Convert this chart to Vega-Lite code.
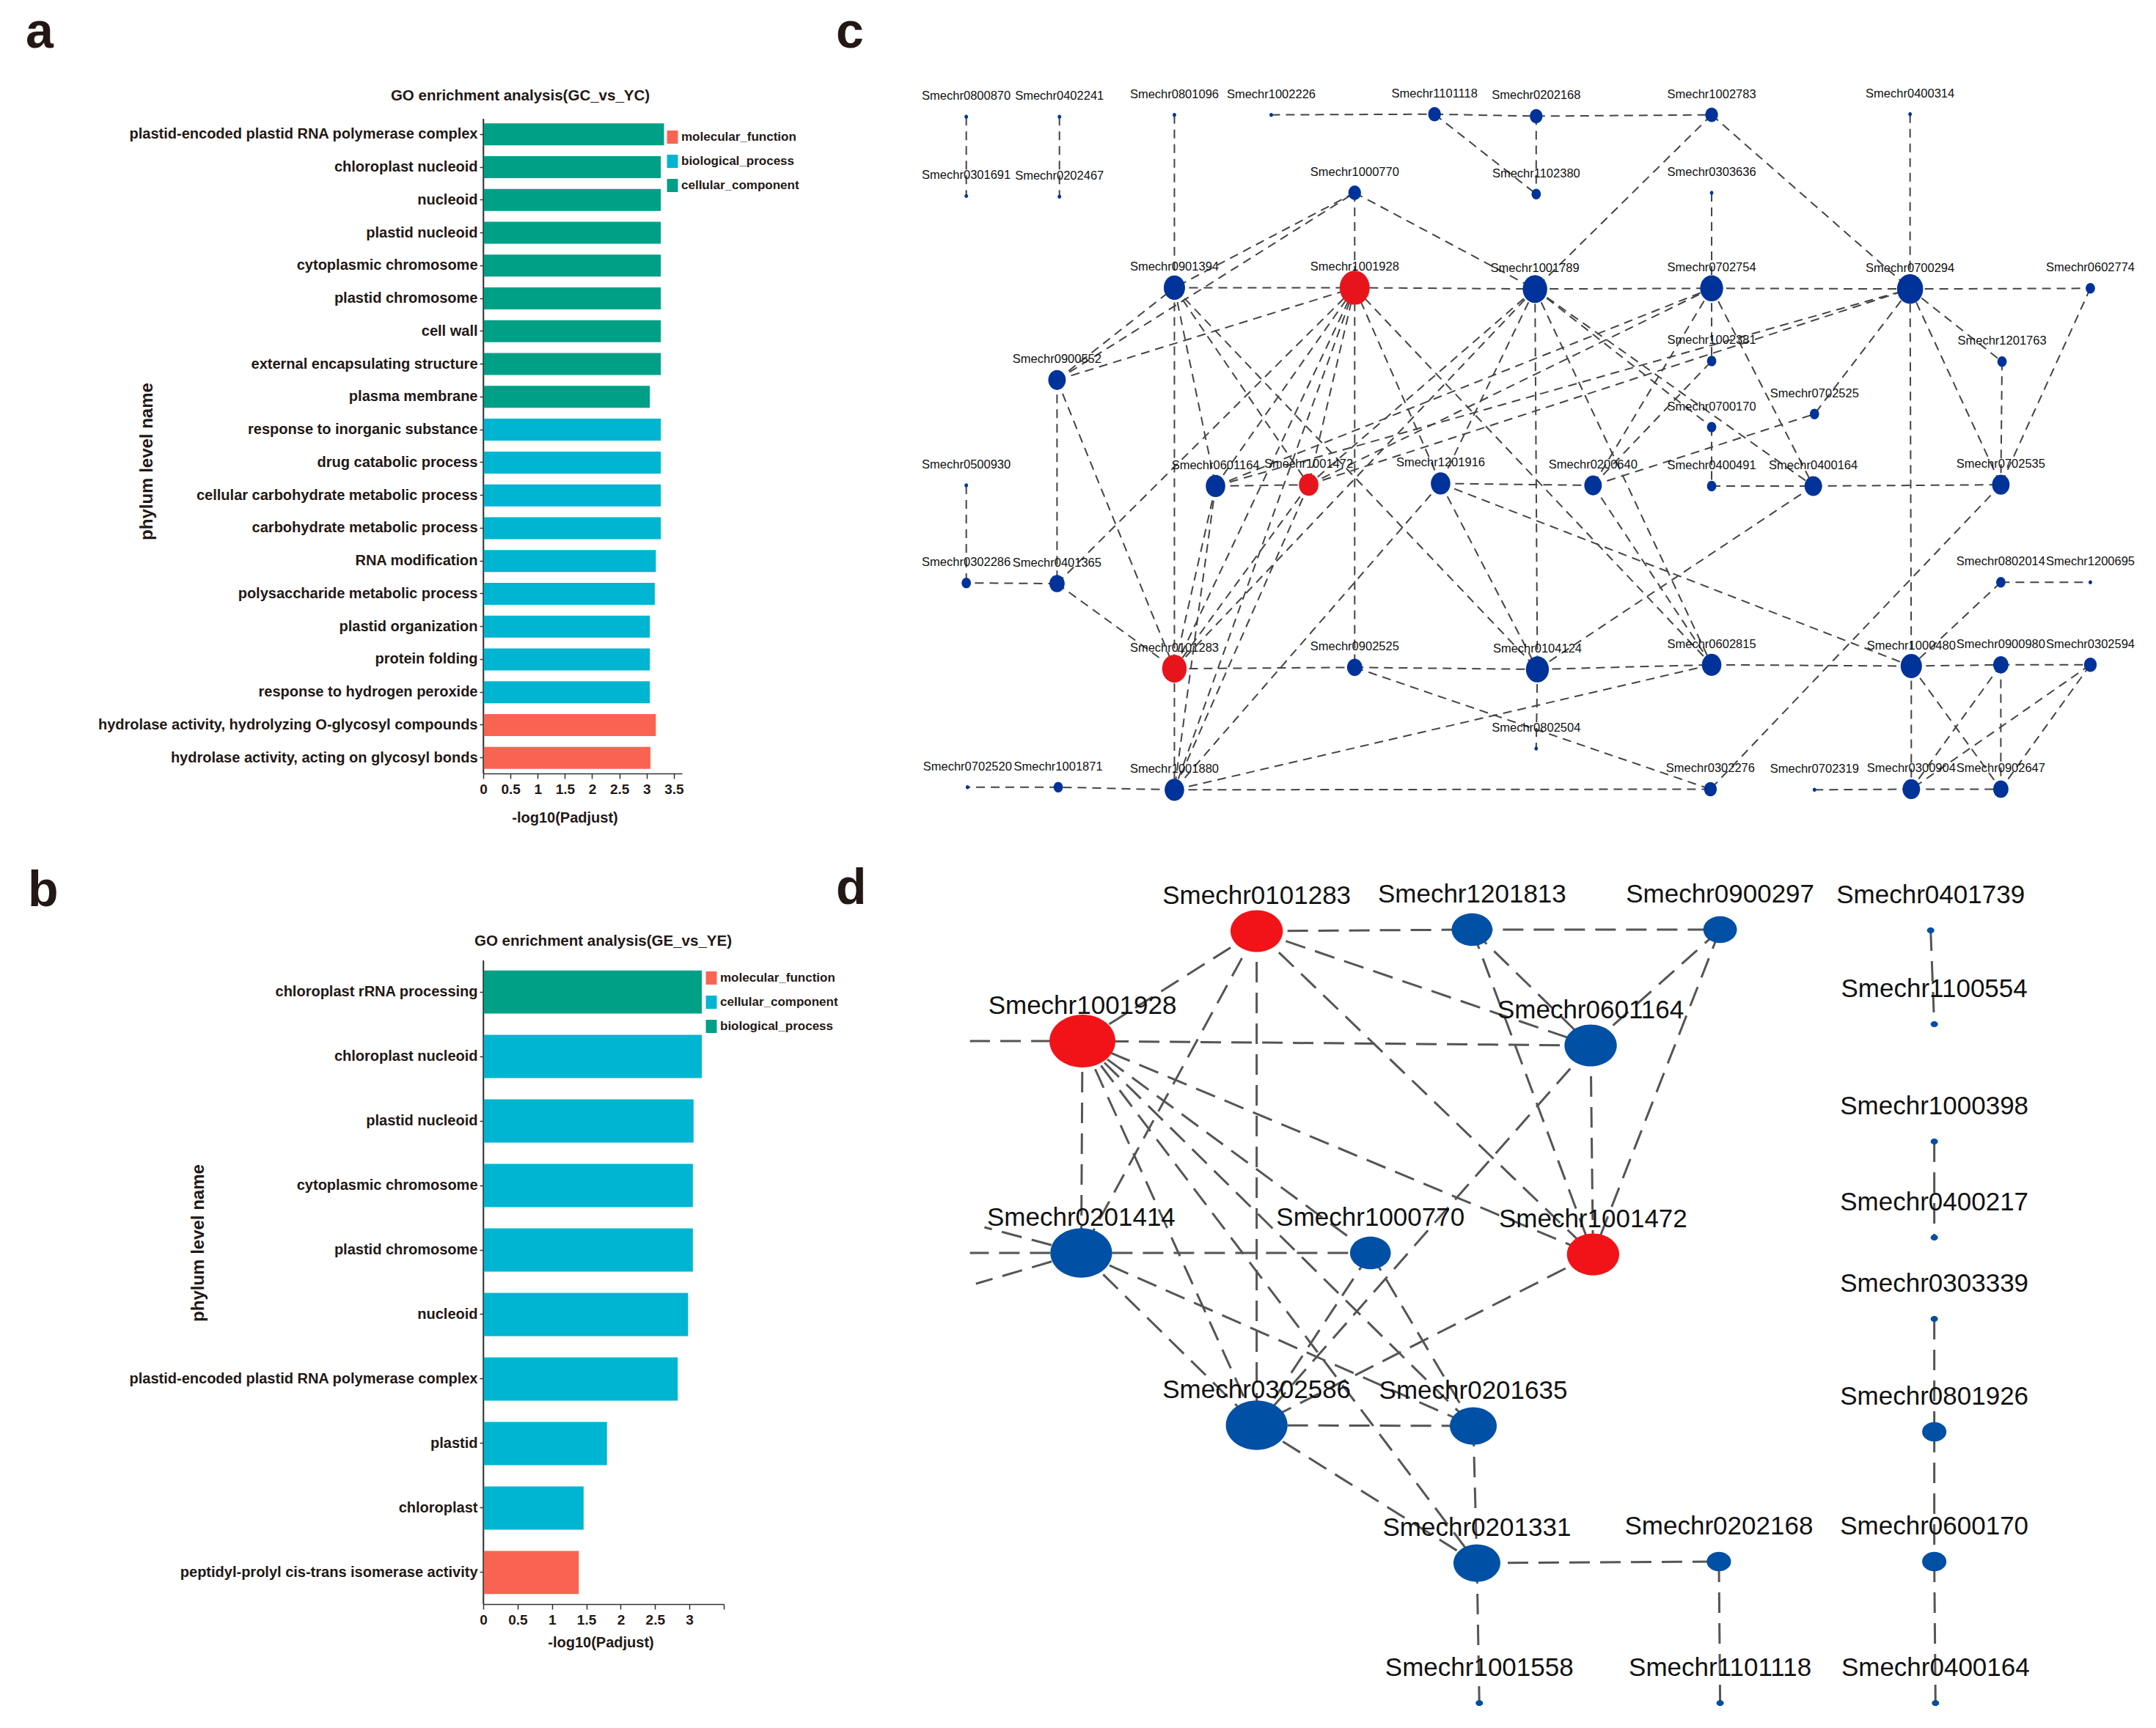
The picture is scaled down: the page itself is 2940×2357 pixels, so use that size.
{
  "$schema": "https://vega.github.io/schema/vega-lite/v6.json",
  "background": "white",
  "padding": {"left": 35, "top": 10, "right": 20, "bottom": 20},
  "config": {"view": {"stroke": null}},
  "datasets": {
    "goA": [
      {"term": "plastid-encoded plastid RNA polymerase complex", "value": 3.32, "category": "cellular_component"},
      {"term": "chloroplast nucleoid", "value": 3.26, "category": "cellular_component"},
      {"term": "nucleoid", "value": 3.26, "category": "cellular_component"},
      {"term": "plastid nucleoid", "value": 3.26, "category": "cellular_component"},
      {"term": "cytoplasmic chromosome", "value": 3.26, "category": "cellular_component"},
      {"term": "plastid chromosome", "value": 3.26, "category": "cellular_component"},
      {"term": "cell wall", "value": 3.26, "category": "cellular_component"},
      {"term": "external encapsulating structure", "value": 3.26, "category": "cellular_component"},
      {"term": "plasma membrane", "value": 3.06, "category": "cellular_component"},
      {"term": "response to inorganic substance", "value": 3.26, "category": "biological_process"},
      {"term": "drug catabolic process", "value": 3.26, "category": "biological_process"},
      {"term": "cellular carbohydrate metabolic process", "value": 3.26, "category": "biological_process"},
      {"term": "carbohydrate metabolic process", "value": 3.26, "category": "biological_process"},
      {"term": "RNA modification", "value": 3.17, "category": "biological_process"},
      {"term": "polysaccharide metabolic process", "value": 3.15, "category": "biological_process"},
      {"term": "plastid organization", "value": 3.06, "category": "biological_process"},
      {"term": "protein folding", "value": 3.06, "category": "biological_process"},
      {"term": "response to hydrogen peroxide", "value": 3.06, "category": "biological_process"},
      {"term": "hydrolase activity, hydrolyzing O-glycosyl compounds", "value": 3.17, "category": "molecular_function"},
      {"term": "hydrolase activity, acting on glycosyl bonds", "value": 3.07, "category": "molecular_function"}
    ],
    "goB": [
      {"term": "chloroplast rRNA processing", "value": 3.18, "category": "biological_process"},
      {"term": "chloroplast nucleoid", "value": 3.18, "category": "cellular_component"},
      {"term": "plastid nucleoid", "value": 3.06, "category": "cellular_component"},
      {"term": "cytoplasmic chromosome", "value": 3.05, "category": "cellular_component"},
      {"term": "plastid chromosome", "value": 3.05, "category": "cellular_component"},
      {"term": "nucleoid", "value": 2.98, "category": "cellular_component"},
      {"term": "plastid-encoded plastid RNA polymerase complex", "value": 2.83, "category": "cellular_component"},
      {"term": "plastid", "value": 1.8, "category": "cellular_component"},
      {"term": "chloroplast", "value": 1.46, "category": "cellular_component"},
      {"term": "peptidyl-prolyl cis-trans isomerase activity", "value": 1.39, "category": "molecular_function"}
    ],
    "nodesC": [
      {"id": "Smechr0800870", "x": 4.1, "y": -0.3, "degree": 1, "type": "other"},
      {"id": "Smechr0402241", "x": 11.8, "y": -0.3, "degree": 1, "type": "other"},
      {"id": "Smechr0801096", "x": 21.3, "y": -0.6, "degree": 1, "type": "other"},
      {"id": "Smechr1002226", "x": 29.3, "y": -0.6, "degree": 1, "type": "other"},
      {"id": "Smechr1101118", "x": 42.8, "y": -0.7, "degree": 3, "type": "other"},
      {"id": "Smechr0202168", "x": 51.2, "y": -0.4, "degree": 3, "type": "other"},
      {"id": "Smechr1002783", "x": 65.7, "y": -0.6, "degree": 3, "type": "other"},
      {"id": "Smechr0400314", "x": 82.1, "y": -0.7, "degree": 1, "type": "other"},
      {"id": "Smechr0301691", "x": 4.1, "y": 11.8, "degree": 1, "type": "other"},
      {"id": "Smechr0202467", "x": 11.8, "y": 11.9, "degree": 1, "type": "other"},
      {"id": "Smechr1000770", "x": 36.2, "y": 11.3, "degree": 3, "type": "other"},
      {"id": "Smechr1102380", "x": 51.2, "y": 11.5, "degree": 2, "type": "other"},
      {"id": "Smechr0303636", "x": 65.7, "y": 11.3, "degree": 1, "type": "other"},
      {"id": "Smechr0901394", "x": 21.3, "y": 25.8, "degree": 7, "type": "other"},
      {"id": "Smechr1001928", "x": 36.2, "y": 25.8, "degree": 13, "type": "key"},
      {"id": "Smechr1001789", "x": 51.1, "y": 26.0, "degree": 9, "type": "other"},
      {"id": "Smechr0702754", "x": 65.7, "y": 25.9, "degree": 8, "type": "other"},
      {"id": "Smechr0700294", "x": 82.1, "y": 26.0, "degree": 10, "type": "other"},
      {"id": "Smechr0602774", "x": 97.0, "y": 25.9, "degree": 2, "type": "other"},
      {"id": "Smechr0900552", "x": 11.6, "y": 39.9, "degree": 5, "type": "other"},
      {"id": "Smechr1002381", "x": 65.7, "y": 37.0, "degree": 2, "type": "other"},
      {"id": "Smechr1201763", "x": 89.7, "y": 37.1, "degree": 2, "type": "other"},
      {"id": "Smechr0702525", "x": 74.2, "y": 45.1, "degree": 2, "type": "other"},
      {"id": "Smechr0700170", "x": 65.7, "y": 47.1, "degree": 2, "type": "other"},
      {"id": "Smechr0500930", "x": 4.1, "y": 56.0, "degree": 1, "type": "other"},
      {"id": "Smechr0601164", "x": 24.7, "y": 56.1, "degree": 6, "type": "other"},
      {"id": "Smechr1001472", "x": 32.4, "y": 55.9, "degree": 6, "type": "key"},
      {"id": "Smechr1201916", "x": 43.3, "y": 55.7, "degree": 6, "type": "other"},
      {"id": "Smechr0200640", "x": 55.9, "y": 56.0, "degree": 5, "type": "other"},
      {"id": "Smechr0400491", "x": 65.7, "y": 56.1, "degree": 2, "type": "other"},
      {"id": "Smechr0400164", "x": 74.1, "y": 56.1, "degree": 5, "type": "other"},
      {"id": "Smechr0702535", "x": 89.6, "y": 55.9, "degree": 5, "type": "other"},
      {"id": "Smechr0302286", "x": 4.1, "y": 70.9, "degree": 2, "type": "other"},
      {"id": "Smechr0401365", "x": 11.6, "y": 71.0, "degree": 4, "type": "other"},
      {"id": "Smechr0802014", "x": 89.6, "y": 70.8, "degree": 2, "type": "other"},
      {"id": "Smechr1200695", "x": 97.0, "y": 70.8, "degree": 1, "type": "other"},
      {"id": "Smechr0101283", "x": 21.3, "y": 84.0, "degree": 9, "type": "key"},
      {"id": "Smechr0902525", "x": 36.2, "y": 83.8, "degree": 4, "type": "other"},
      {"id": "Smechr0104124", "x": 51.3, "y": 84.1, "degree": 8, "type": "other"},
      {"id": "Smechr0602815", "x": 65.7, "y": 83.4, "degree": 6, "type": "other"},
      {"id": "Smechr1000480", "x": 82.2, "y": 83.6, "degree": 7, "type": "other"},
      {"id": "Smechr0900980", "x": 89.6, "y": 83.4, "degree": 4, "type": "other"},
      {"id": "Smechr0302594", "x": 97.0, "y": 83.4, "degree": 3, "type": "other"},
      {"id": "Smechr0802504", "x": 51.2, "y": 96.2, "degree": 1, "type": "other"},
      {"id": "Smechr0702520", "x": 4.2, "y": 102.1, "degree": 1, "type": "other"},
      {"id": "Smechr1001871", "x": 11.7, "y": 102.1, "degree": 2, "type": "other"},
      {"id": "Smechr1001880", "x": 21.3, "y": 102.5, "degree": 6, "type": "other"},
      {"id": "Smechr0302276", "x": 65.6, "y": 102.4, "degree": 3, "type": "other"},
      {"id": "Smechr0702319", "x": 74.2, "y": 102.5, "degree": 1, "type": "other"},
      {"id": "Smechr0300904", "x": 82.2, "y": 102.4, "degree": 5, "type": "other"},
      {"id": "Smechr0902647", "x": 89.6, "y": 102.4, "degree": 4, "type": "other"}
    ],
    "edgesC": [
      {"s": "Smechr0800870", "t": "Smechr0301691"}, {"s": "Smechr0402241", "t": "Smechr0202467"},
      {"s": "Smechr0801096", "t": "Smechr0901394"}, {"s": "Smechr1002226", "t": "Smechr1101118"},
      {"s": "Smechr1101118", "t": "Smechr0202168"}, {"s": "Smechr1101118", "t": "Smechr1102380"},
      {"s": "Smechr0202168", "t": "Smechr1102380"}, {"s": "Smechr0202168", "t": "Smechr1002783"},
      {"s": "Smechr1002783", "t": "Smechr1001789"}, {"s": "Smechr1002783", "t": "Smechr0700294"},
      {"s": "Smechr0400314", "t": "Smechr0700294"}, {"s": "Smechr0303636", "t": "Smechr0702754"},
      {"s": "Smechr1000770", "t": "Smechr0901394"}, {"s": "Smechr1000770", "t": "Smechr1001928"},
      {"s": "Smechr1000770", "t": "Smechr1001789"}, {"s": "Smechr0901394", "t": "Smechr1001928"},
      {"s": "Smechr1001928", "t": "Smechr1001789"}, {"s": "Smechr1001789", "t": "Smechr0702754"},
      {"s": "Smechr0702754", "t": "Smechr0700294"}, {"s": "Smechr0700294", "t": "Smechr0602774"},
      {"s": "Smechr0900552", "t": "Smechr0901394"}, {"s": "Smechr0900552", "t": "Smechr1000770"},
      {"s": "Smechr0900552", "t": "Smechr1001928"}, {"s": "Smechr0900552", "t": "Smechr0401365"},
      {"s": "Smechr0900552", "t": "Smechr0101283"}, {"s": "Smechr0901394", "t": "Smechr0101283"},
      {"s": "Smechr0901394", "t": "Smechr1001472"}, {"s": "Smechr0901394", "t": "Smechr0601164"},
      {"s": "Smechr0901394", "t": "Smechr0104124"}, {"s": "Smechr0401365", "t": "Smechr1001928"},
      {"s": "Smechr0401365", "t": "Smechr0302286"}, {"s": "Smechr0401365", "t": "Smechr0101283"},
      {"s": "Smechr0500930", "t": "Smechr0302286"}, {"s": "Smechr1001928", "t": "Smechr0101283"},
      {"s": "Smechr1001928", "t": "Smechr0601164"}, {"s": "Smechr1001928", "t": "Smechr1001880"},
      {"s": "Smechr1001928", "t": "Smechr0902525"}, {"s": "Smechr1001928", "t": "Smechr1201916"},
      {"s": "Smechr1001928", "t": "Smechr0602815"}, {"s": "Smechr1001928", "t": "Smechr1001472"},
      {"s": "Smechr0601164", "t": "Smechr1001472"}, {"s": "Smechr0601164", "t": "Smechr0702754"},
      {"s": "Smechr0601164", "t": "Smechr0700294"}, {"s": "Smechr1001472", "t": "Smechr0702754"},
      {"s": "Smechr1001472", "t": "Smechr0700294"}, {"s": "Smechr0601164", "t": "Smechr1001880"},
      {"s": "Smechr1001472", "t": "Smechr0101283"}, {"s": "Smechr1001472", "t": "Smechr1001880"},
      {"s": "Smechr1001789", "t": "Smechr0101283"}, {"s": "Smechr1001789", "t": "Smechr1001472"},
      {"s": "Smechr1001789", "t": "Smechr0104124"}, {"s": "Smechr1001789", "t": "Smechr0700170"},
      {"s": "Smechr1001789", "t": "Smechr0400164"}, {"s": "Smechr1001789", "t": "Smechr0602815"},
      {"s": "Smechr1001789", "t": "Smechr1201916"}, {"s": "Smechr0702754", "t": "Smechr1002381"},
      {"s": "Smechr0700170", "t": "Smechr0400491"}, {"s": "Smechr0702754", "t": "Smechr0200640"},
      {"s": "Smechr0702754", "t": "Smechr0400164"}, {"s": "Smechr0700294", "t": "Smechr1000480"},
      {"s": "Smechr0700294", "t": "Smechr0702525"}, {"s": "Smechr0700294", "t": "Smechr1201763"},
      {"s": "Smechr0700294", "t": "Smechr0702535"}, {"s": "Smechr1201763", "t": "Smechr0702535"},
      {"s": "Smechr0602774", "t": "Smechr0702535"}, {"s": "Smechr1201916", "t": "Smechr0200640"},
      {"s": "Smechr0400491", "t": "Smechr0400164"}, {"s": "Smechr0400164", "t": "Smechr0702535"},
      {"s": "Smechr0200640", "t": "Smechr0702525"}, {"s": "Smechr0200640", "t": "Smechr1002381"},
      {"s": "Smechr0200640", "t": "Smechr0602815"}, {"s": "Smechr0400164", "t": "Smechr0104124"},
      {"s": "Smechr1201916", "t": "Smechr1000480"}, {"s": "Smechr1201916", "t": "Smechr0104124"},
      {"s": "Smechr1201916", "t": "Smechr1001880"}, {"s": "Smechr0101283", "t": "Smechr1001880"},
      {"s": "Smechr0101283", "t": "Smechr0902525"}, {"s": "Smechr0902525", "t": "Smechr0104124"},
      {"s": "Smechr0902525", "t": "Smechr0302276"}, {"s": "Smechr0104124", "t": "Smechr0602815"},
      {"s": "Smechr0104124", "t": "Smechr0802504"}, {"s": "Smechr0602815", "t": "Smechr1000480"},
      {"s": "Smechr0602815", "t": "Smechr1001880"}, {"s": "Smechr1000480", "t": "Smechr0900980"},
      {"s": "Smechr1000480", "t": "Smechr0300904"}, {"s": "Smechr1000480", "t": "Smechr0902647"},
      {"s": "Smechr0802014", "t": "Smechr1000480"}, {"s": "Smechr0802014", "t": "Smechr1200695"},
      {"s": "Smechr0702535", "t": "Smechr0302276"}, {"s": "Smechr0900980", "t": "Smechr0302594"},
      {"s": "Smechr0900980", "t": "Smechr0902647"}, {"s": "Smechr0900980", "t": "Smechr0300904"},
      {"s": "Smechr0302594", "t": "Smechr0300904"}, {"s": "Smechr0302594", "t": "Smechr0902647"},
      {"s": "Smechr0300904", "t": "Smechr0702319"}, {"s": "Smechr0300904", "t": "Smechr0902647"},
      {"s": "Smechr0302276", "t": "Smechr1001880"}, {"s": "Smechr1001880", "t": "Smechr1001871"},
      {"s": "Smechr1001871", "t": "Smechr0702520"}, {"s": "Smechr0601164", "t": "Smechr0101283"}
    ],
    "nodesD": [
      {"id": "Smechr0101283", "x": 28.1, "y": -4.0, "degree": 6, "type": "key"},
      {"id": "Smechr1201813", "x": 45.9, "y": -4.2, "degree": 4, "type": "other"},
      {"id": "Smechr0900297", "x": 66.4, "y": -4.2, "degree": 3, "type": "other"},
      {"id": "Smechr0401739", "x": 83.8, "y": -4.1, "degree": 1, "type": "other"},
      {"id": "Smechr1001928", "x": 13.7, "y": 11.0, "degree": 9, "type": "key"},
      {"id": "Smechr0601164", "x": 55.7, "y": 11.6, "degree": 6, "type": "other"},
      {"id": "Smechr1100554", "x": 84.1, "y": 8.7, "degree": 1, "type": "other"},
      {"id": "Smechr1000398", "x": 84.1, "y": 24.7, "degree": 1, "type": "other"},
      {"id": "Smechr0201414", "x": 13.6, "y": 39.9, "degree": 8, "type": "other"},
      {"id": "Smechr1000770", "x": 37.5, "y": 39.9, "degree": 4, "type": "other"},
      {"id": "Smechr1001472", "x": 55.9, "y": 40.1, "degree": 6, "type": "key"},
      {"id": "Smechr0400217", "x": 84.1, "y": 37.8, "degree": 1, "type": "other"},
      {"id": "Smechr0303339", "x": 84.1, "y": 48.9, "degree": 1, "type": "other"},
      {"id": "Smechr0302586", "x": 28.1, "y": 63.4, "degree": 8, "type": "other"},
      {"id": "Smechr0201635", "x": 46.0, "y": 63.5, "degree": 5, "type": "other"},
      {"id": "Smechr0801926", "x": 84.1, "y": 64.3, "degree": 2, "type": "other"},
      {"id": "Smechr0201331", "x": 46.3, "y": 82.2, "degree": 5, "type": "other"},
      {"id": "Smechr0202168", "x": 66.3, "y": 82.0, "degree": 2, "type": "other"},
      {"id": "Smechr0600170", "x": 84.1, "y": 82.0, "degree": 2, "type": "other"},
      {"id": "Smechr1001558", "x": 46.5, "y": 101.3, "degree": 1, "type": "other"},
      {"id": "Smechr1101118", "x": 66.4, "y": 101.3, "degree": 1, "type": "other"},
      {"id": "Smechr0400164", "x": 84.2, "y": 101.3, "degree": 1, "type": "other"},
      {"id": "L1", "x": 4.4, "y": 11.0, "degree": 1, "type": "stub"},
      {"id": "L2", "x": 4.4, "y": 39.9, "degree": 1, "type": "stub"},
      {"id": "L3", "x": 4.9, "y": 44.1, "degree": 1, "type": "stub"},
      {"id": "L4", "x": 5.6, "y": 36.4, "degree": 1, "type": "stub"}
    ],
    "edgesD": [
      {"s": "Smechr0101283", "t": "Smechr1201813"}, {"s": "Smechr1201813", "t": "Smechr0900297"},
      {"s": "Smechr0101283", "t": "Smechr1001928"}, {"s": "Smechr0101283", "t": "Smechr0201414"},
      {"s": "Smechr0101283", "t": "Smechr0302586"}, {"s": "Smechr0101283", "t": "Smechr0601164"},
      {"s": "Smechr0101283", "t": "Smechr1001472"}, {"s": "Smechr1201813", "t": "Smechr0601164"},
      {"s": "Smechr1201813", "t": "Smechr1001472"}, {"s": "Smechr0900297", "t": "Smechr0601164"},
      {"s": "Smechr0900297", "t": "Smechr1001472"}, {"s": "Smechr0601164", "t": "Smechr1001472"},
      {"s": "Smechr0601164", "t": "Smechr1001928"}, {"s": "Smechr0601164", "t": "Smechr0302586"},
      {"s": "Smechr1001928", "t": "L1"}, {"s": "Smechr1001928", "t": "Smechr0201414"},
      {"s": "Smechr1001928", "t": "Smechr0302586"}, {"s": "Smechr1001928", "t": "Smechr0201635"},
      {"s": "Smechr1001928", "t": "Smechr0201331"}, {"s": "Smechr1001928", "t": "Smechr1000770"},
      {"s": "Smechr1001928", "t": "Smechr1001472"}, {"s": "Smechr0201414", "t": "Smechr1000770"},
      {"s": "Smechr0201414", "t": "Smechr0302586"}, {"s": "Smechr0201414", "t": "Smechr0201635"},
      {"s": "Smechr0201414", "t": "L2"}, {"s": "Smechr0201414", "t": "L3"},
      {"s": "Smechr0201414", "t": "L4"}, {"s": "Smechr1000770", "t": "Smechr0302586"},
      {"s": "Smechr1000770", "t": "Smechr0201635"}, {"s": "Smechr1001472", "t": "Smechr0302586"},
      {"s": "Smechr0302586", "t": "Smechr0201635"}, {"s": "Smechr0302586", "t": "Smechr0201331"},
      {"s": "Smechr0201635", "t": "Smechr0201331"}, {"s": "Smechr0201331", "t": "Smechr0202168"},
      {"s": "Smechr0201331", "t": "Smechr1001558"}, {"s": "Smechr0202168", "t": "Smechr1101118"},
      {"s": "Smechr0401739", "t": "Smechr1100554"}, {"s": "Smechr1000398", "t": "Smechr0400217"},
      {"s": "Smechr0303339", "t": "Smechr0801926"}, {"s": "Smechr0801926", "t": "Smechr0600170"},
      {"s": "Smechr0600170", "t": "Smechr0400164"}
    ]
  },
  "columns": 2,
  "bounds": "flush",
  "spacing": {"row": 255, "column": 263},
  "resolve": {
    "scale": {"color": "independent", "size": "independent", "x": "independent", "y": "independent"},
    "legend": {"color": "independent", "size": "independent"}
  },
  "concat": [
    {
      "width": 271,
      "height": 893,
      "data": {"name": "goA"},
      "title": {"text": "a", "anchor": "start", "frame": "group", "dx": -624, "dy": -37, "fontSize": 68, "fontWeight": "bold", "font": "Liberation Sans", "color": "#231815"},
      "resolve": {"axis": {"x": "independent"}},
      "layer": [
        {
          "mark": {"type": "bar"},
          "encoding": {
            "y": {
              "field": "term", "type": "nominal", "sort": null,
              "scale": {"paddingInner": 0.33, "paddingOuter": 0.14},
              "axis": {
                "title": "phylum level name", "titleFont": "Liberation Sans", "titleFontWeight": "bold", "titleFontSize": 24, "titleColor": "#231815",
                "titleX": -459, "titleY": 467, "titleAngle": -90, "titleAlign": "center", "titleBaseline": "middle",
                "labelFont": "Liberation Sans", "labelFontSize": 20, "labelFontWeight": "bold", "labelColor": "#231815", "labelLimit": 1000, "labelPadding": 3,
                "tickSize": 5, "tickColor": "#333333", "tickWidth": 1.5, "domainColor": "#333333", "domainWidth": 1.5, "grid": false
              }
            },
            "x": {
              "field": "value", "type": "quantitative",
              "scale": {"domain": [0, 3.65], "nice": false, "zero": true},
              "axis": {
                "title": "-log10(Padjust)", "values": [0, 0.5, 1, 1.5, 2, 2.5, 3, 3.5], "format": "~g",
                "titleFont": "Liberation Sans", "titleFontSize": 20, "titleFontWeight": "bold", "titleColor": "#231815",
                "titleX": 111, "titleY": 66, "titleAlign": "center", "titleBaseline": "alphabetic",
                "labelFont": "Liberation Sans", "labelFontSize": 19, "labelFontWeight": "bold", "labelColor": "#231815", "labelPadding": 5, "labelFlush": false, "labelOverlap": false,
                "tickSize": 7, "tickColor": "#333333", "tickWidth": 1.5, "domainColor": "#333333", "domainWidth": 1.5, "grid": false
              }
            },
            "color": {
              "field": "category", "type": "nominal",
              "scale": {"domain": ["molecular_function", "biological_process", "cellular_component"], "range": ["#F96452", "#00B5D1", "#00A087"]},
              "legend": {
                "orient": "none", "legendX": 249, "legendY": 16, "title": null,
                "symbolType": "M-0.83,-1H0.83V1H-0.83Z", "symbolSize": 324, "symbolStrokeWidth": 0,
                "labelFont": "Liberation Sans", "labelFontSize": 17, "labelFontWeight": "bold", "labelColor": "#231815", "labelOffset": 3, "labelLimit": 500, "rowPadding": 15
              }
            }
          }
        },
        {
          "data": {"values": [{}]},
          "mark": {"type": "rule", "color": "#333333", "strokeWidth": 1.5},
          "encoding": {
            "x": {
              "datum": 0, "type": "quantitative",
              "axis": {
                "orient": "top", "title": "GO enrichment analysis(GC_vs_YC)", "domain": false, "ticks": false, "labels": false, "grid": false,
                "titleX": 50, "titleY": -26, "titleAlign": "center", "titleBaseline": "alphabetic",
                "titleFont": "Liberation Sans", "titleFontSize": 20.5, "titleFontWeight": "bold", "titleColor": "#231815"
              }
            }
          }
        }
      ]
    },
    {
      "width": 1650,
      "height": 893,
      "title": {"text": "c", "anchor": "start", "frame": "group", "dx": -110, "dy": -37, "fontSize": 68, "fontWeight": "bold", "font": "Liberation Sans", "color": "#231815"},
      "layer": [
        {
          "data": {"name": "edgesC"},
          "transform": [
            {"lookup": "s", "from": {"data": {"name": "nodesC"}, "key": "id", "fields": ["x", "y"]}, "as": ["sx", "sy"]},
            {"lookup": "t", "from": {"data": {"name": "nodesC"}, "key": "id", "fields": ["x", "y"]}, "as": ["tx", "ty"]}
          ],
          "mark": {"type": "rule", "color": "#444444", "strokeWidth": 2, "strokeDash": [12, 8]},
          "encoding": {
            "x": {"field": "sx", "type": "quantitative", "scale": {"domain": [0, 100], "nice": false, "zero": false}, "axis": null},
            "y": {"field": "sy", "type": "quantitative", "scale": {"domain": [0, 100], "nice": false, "zero": false, "reverse": true}, "axis": null},
            "x2": {"field": "tx"},
            "y2": {"field": "ty"}
          }
        },
        {
          "data": {"name": "nodesC"},
          "mark": {"type": "point", "shape": "M0,-1A0.88,1,0,1,1,0,1A0.88,1,0,1,1,0,-1Z", "filled": true, "opacity": 1, "strokeWidth": 0},
          "encoding": {
            "x": {"field": "x", "type": "quantitative", "axis": null},
            "y": {"field": "y", "type": "quantitative", "axis": null},
            "size": {"field": "degree", "type": "quantitative", "scale": {"domain": [1, 11], "range": [30, 1800], "zero": false}, "legend": null},
            "color": {"field": "type", "type": "nominal", "scale": {"domain": ["key", "other"], "range": ["#E8141C", "#003399"]}, "legend": null}
          }
        },
        {
          "data": {"name": "nodesC"},
          "mark": {"type": "text", "dy": -23, "baseline": "alphabetic", "align": "center", "font": "Liberation Sans", "fontSize": 16.5, "color": "#111111"},
          "encoding": {
            "x": {"field": "x", "type": "quantitative", "axis": null},
            "y": {"field": "y", "type": "quantitative", "axis": null},
            "text": {"field": "id"}
          }
        }
      ]
    },
    {
      "width": 328,
      "height": 878,
      "data": {"name": "goB"},
      "title": {"text": "b", "anchor": "start", "frame": "group", "dx": -621, "dy": -19, "fontSize": 68, "fontWeight": "bold", "font": "Liberation Sans", "color": "#231815"},
      "resolve": {"axis": {"x": "independent"}},
      "layer": [
        {
          "mark": {"type": "bar"},
          "encoding": {
            "y": {
              "field": "term", "type": "nominal", "sort": null,
              "scale": {"paddingInner": 0.33, "paddingOuter": 0.155},
              "axis": {
                "title": "phylum level name", "titleFont": "Liberation Sans", "titleFontWeight": "bold", "titleFontSize": 24, "titleColor": "#231815",
                "titleX": -389, "titleY": 385, "titleAngle": -90, "titleAlign": "center", "titleBaseline": "middle",
                "labelFont": "Liberation Sans", "labelFontSize": 20, "labelFontWeight": "bold", "labelColor": "#231815", "labelLimit": 1000, "labelPadding": 3,
                "tickSize": 5, "tickColor": "#333333", "tickWidth": 1.5, "domainColor": "#333333", "domainWidth": 1.5, "grid": false
              }
            },
            "x": {
              "field": "value", "type": "quantitative",
              "scale": {"domain": [0, 3.5], "nice": false, "zero": true},
              "axis": {
                "title": "-log10(Padjust)", "values": [0, 0.5, 1, 1.5, 2, 2.5, 3, 3.5], "format": "~g",
                "labelExpr": "datum.value == 3.5 ? '' : datum.label",
                "titleFont": "Liberation Sans", "titleFontSize": 20, "titleFontWeight": "bold", "titleColor": "#231815",
                "titleX": 160, "titleY": 58, "titleAlign": "center", "titleBaseline": "alphabetic",
                "labelFont": "Liberation Sans", "labelFontSize": 19, "labelFontWeight": "bold", "labelColor": "#231815", "labelPadding": 5, "labelFlush": false, "labelOverlap": false,
                "tickSize": 7, "tickColor": "#333333", "tickWidth": 1.5, "domainColor": "#333333", "domainWidth": 1.5, "grid": false
              }
            },
            "color": {
              "field": "category", "type": "nominal",
              "scale": {"domain": ["molecular_function", "cellular_component", "biological_process"], "range": ["#F96452", "#00B5D1", "#00A087"]},
              "legend": {
                "orient": "none", "legendX": 302, "legendY": 15, "title": null,
                "symbolType": "M-0.83,-1H0.83V1H-0.83Z", "symbolSize": 324, "symbolStrokeWidth": 0,
                "labelFont": "Liberation Sans", "labelFontSize": 17, "labelFontWeight": "bold", "labelColor": "#231815", "labelOffset": 3, "labelLimit": 500, "rowPadding": 15
              }
            }
          }
        },
        {
          "data": {"values": [{}]},
          "mark": {"type": "rule", "color": "#333333", "strokeWidth": 1.5},
          "encoding": {
            "x": {
              "datum": 0, "type": "quantitative",
              "axis": {
                "orient": "top", "title": "GO enrichment analysis(GE_vs_YE)", "domain": false, "ticks": false, "labels": false, "grid": false,
                "titleX": 163, "titleY": -21, "titleAlign": "center", "titleBaseline": "alphabetic",
                "titleFont": "Liberation Sans", "titleFontSize": 20.5, "titleFontWeight": "bold", "titleColor": "#231815"
              }
            }
          }
        }
      ]
    },
    {
      "width": 1650,
      "height": 1000,
      "title": {"text": "d", "anchor": "start", "frame": "group", "dx": -110, "dy": 48, "fontSize": 68, "fontWeight": "bold", "font": "Liberation Sans", "color": "#231815"},
      "layer": [
        {
          "data": {"name": "edgesD"},
          "transform": [
            {"lookup": "s", "from": {"data": {"name": "nodesD"}, "key": "id", "fields": ["x", "y"]}, "as": ["sx", "sy"]},
            {"lookup": "t", "from": {"data": {"name": "nodesD"}, "key": "id", "fields": ["x", "y"]}, "as": ["tx", "ty"]}
          ],
          "mark": {"type": "rule", "color": "#555555", "strokeWidth": 3, "strokeDash": [28, 14]},
          "encoding": {
            "x": {"field": "sx", "type": "quantitative", "scale": {"domain": [0, 100], "nice": false, "zero": false}, "axis": null},
            "y": {"field": "sy", "type": "quantitative", "scale": {"domain": [0, 100], "nice": false, "zero": false, "reverse": true}, "axis": null},
            "x2": {"field": "tx"},
            "y2": {"field": "ty"}
          }
        },
        {
          "data": {"name": "nodesD"},
          "transform": [{"filter": "datum.type != 'stub'"}],
          "mark": {"type": "point", "shape": "M-1,0A1,0.8,0,1,1,1,0A1,0.8,0,1,1,-1,0Z", "filled": true, "opacity": 1, "strokeWidth": 0},
          "encoding": {
            "x": {"field": "x", "type": "quantitative", "axis": null},
            "y": {"field": "y", "type": "quantitative", "axis": null},
            "size": {"field": "degree", "type": "quantitative", "scale": {"domain": [1, 9], "range": [100, 8085], "zero": false}, "legend": null},
            "color": {"field": "type", "type": "nominal", "scale": {"domain": ["key", "other"], "range": ["#F21318", "#0050A5"]}, "legend": null}
          }
        },
        {
          "data": {"name": "nodesD"},
          "transform": [{"filter": "datum.type != 'stub'"}],
          "mark": {"type": "text", "dy": -37, "baseline": "alphabetic", "align": "center", "font": "Liberation Sans", "fontSize": 35, "color": "#111111"},
          "encoding": {
            "x": {"field": "x", "type": "quantitative", "axis": null},
            "y": {"field": "y", "type": "quantitative", "axis": null},
            "text": {"field": "id"}
          }
        }
      ]
    }
  ]
}
